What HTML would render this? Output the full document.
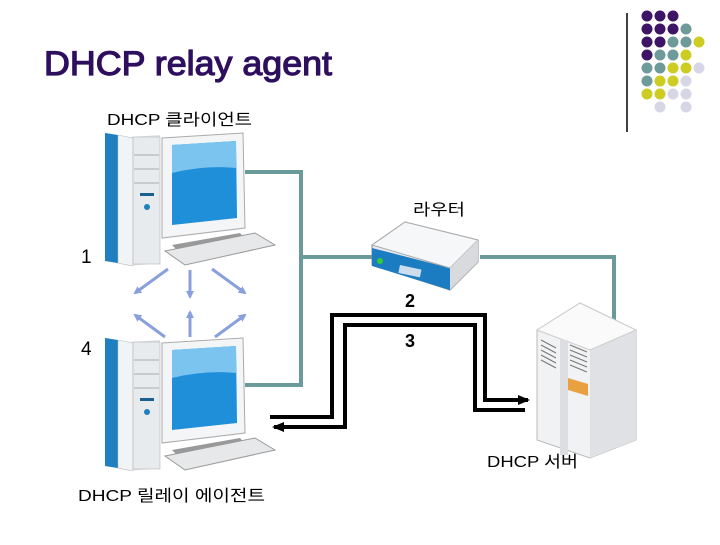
<!DOCTYPE html>
<html><head><meta charset="utf-8"><style>
body{margin:0;width:720px;height:540px;background:#fff;overflow:hidden;font-family:"Liberation Sans","Noto Sans CJK KR",sans-serif}
svg text{font-family:"Liberation Sans","Noto Sans CJK KR",sans-serif}
</style></head><body>
<svg width="720" height="540" viewBox="0 0 720 540" xmlns="http://www.w3.org/2000/svg">
<defs>
<marker id="ab" markerWidth="8" markerHeight="8" refX="6" refY="4" orient="auto" markerUnits="userSpaceOnUse"><path d="M0,0 L8,4 L0,8z" fill="#8aa0dc"/></marker>
<marker id="ak" markerWidth="12" markerHeight="10" refX="10" refY="5" orient="auto" markerUnits="userSpaceOnUse"><path d="M0,0 L12,5 L0,10z" fill="#000"/></marker>
<g id="pc">
<path d="M105,0 L130,4 L160,2 L160,130 L130,133 L105,128z" fill="#dfe3e8"/>
<path d="M105,0 L118,2 L118,130 L105,128z" fill="#1f7fc0"/>
<path d="M118,2 L133,5 L133,133 L118,130z" fill="#f2f3f5" stroke="#bbb" stroke-width=".5"/>
<rect x="133" y="4" width="27" height="127" fill="#e8ebee" stroke="#aaa" stroke-width=".5"/>
<line x1="134" y1="22" x2="159" y2="22" stroke="#aaa"/><line x1="134" y1="36" x2="159" y2="36" stroke="#aaa"/><line x1="134" y1="50" x2="159" y2="50" stroke="#aaa"/>
<rect x="140" y="60" width="14" height="3" fill="#1a5f90"/><circle cx="147" cy="74" r="3" fill="#1f7fc0"/>
<path d="M162,5 L243,0 L245,95 L162,105z" fill="#f4f5f6" stroke="#aaa"/>
<path d="M172,12 L236,8 L237,85 L172,92z" fill="#1e8fd8"/>
<path d="M172,12 L236,8 L236,35 Q205,32 172,40z" fill="#7cc4f0"/>
<path d="M172,112 L240,100 L250,112 L180,120z" fill="#999"/>
<path d="M165,118 L255,100 L275,112 L185,132z" fill="#e6e8ea" stroke="#999"/>
</g>
</defs>
<text x="44" y="75" font-size="34" fill="#2e0f5e" stroke="#2e0f5e" stroke-width="1.2" textLength="288" lengthAdjust="spacingAndGlyphs">DHCP relay agent</text>
<line x1="627" y1="13" x2="627" y2="132" stroke="#000" stroke-width="1.5"/>
<g>
<circle cx="647" cy="16" r="5.5" fill="#3d1466"/><circle cx="660" cy="16" r="5.5" fill="#3d1466"/><circle cx="673" cy="16" r="5.5" fill="#3d1466"/>
<circle cx="647" cy="29" r="5.5" fill="#3d1466"/><circle cx="660" cy="29" r="5.5" fill="#3d1466"/><circle cx="673" cy="29" r="5.5" fill="#3d1466"/><circle cx="686" cy="29" r="5.5" fill="#6e9a9a"/>
<circle cx="647" cy="42" r="5.5" fill="#3d1466"/><circle cx="660" cy="42" r="5.5" fill="#3d1466"/><circle cx="673" cy="42" r="5.5" fill="#6e9a9a"/><circle cx="686" cy="42" r="5.5" fill="#6e9a9a"/><circle cx="699" cy="42" r="5.5" fill="#cccc22"/>
<circle cx="647" cy="55" r="5.5" fill="#3d1466"/><circle cx="660" cy="55" r="5.5" fill="#6e9a9a"/><circle cx="673" cy="55" r="5.5" fill="#6e9a9a"/><circle cx="686" cy="55" r="5.5" fill="#cccc22"/>
<circle cx="647" cy="68" r="5.5" fill="#6e9a9a"/><circle cx="660" cy="68" r="5.5" fill="#6e9a9a"/><circle cx="673" cy="68" r="5.5" fill="#cccc22"/><circle cx="686" cy="68" r="5.5" fill="#cccc22"/><circle cx="699" cy="68" r="5.5" fill="#d6d6e6"/>
<circle cx="647" cy="81" r="5.5" fill="#6e9a9a"/><circle cx="660" cy="81" r="5.5" fill="#cccc22"/><circle cx="673" cy="81" r="5.5" fill="#cccc22"/><circle cx="686" cy="81" r="5.5" fill="#d6d6e6"/>
<circle cx="647" cy="94" r="5.5" fill="#cccc22"/><circle cx="660" cy="94" r="5.5" fill="#cccc22"/><circle cx="673" cy="94" r="5.5" fill="#d6d6e6"/><circle cx="686" cy="94" r="5.5" fill="#d6d6e6"/>
<circle cx="660" cy="107" r="5.5" fill="#d6d6e6"/><circle cx="686" cy="107" r="5.5" fill="#d6d6e6"/>
</g>
<text x="107" y="125" font-size="16" textLength="145" lengthAdjust="spacingAndGlyphs">DHCP 클라이언트</text>
<text x="413" y="215" font-size="16" textLength="52" lengthAdjust="spacingAndGlyphs">라우터</text>
<text x="487" y="467" font-size="16" textLength="91" lengthAdjust="spacingAndGlyphs">DHCP 서버</text>
<text x="78" y="501" font-size="16" textLength="187" lengthAdjust="spacingAndGlyphs">DHCP 릴레이 에이전트</text>
<text x="81" y="263" font-size="19">1</text>
<text x="81" y="355" font-size="19">4</text>
<text x="405" y="307" font-size="18" font-weight="bold">2</text>
<text x="405" y="347" font-size="18" font-weight="bold">3</text>
<path d="M245,172 H301 V385 H245 M301,257 H372 M480,257 H614 V320" fill="none" stroke="#6a9a9a" stroke-width="4"/>
<use href="#pc" y="133"/>
<use href="#pc" y="338"/>
<g stroke="#8aa0dc" stroke-width="3" marker-end="url(#ab)">
<line x1="168" y1="269" x2="135" y2="293"/><line x1="190" y1="270" x2="190" y2="297"/><line x1="212" y1="269" x2="245" y2="293"/>
<line x1="165" y1="337" x2="135" y2="315"/><line x1="190" y1="337" x2="190" y2="312"/><line x1="215" y1="337" x2="245" y2="315"/>
</g>
<path d="M372,245 L405,222 L478,240 L478,262 L450,290 L372,265z" fill="#e8eaec" stroke="#888"/>
<path d="M372,248 L450,268 L450,290 L372,266z" fill="#1c7cc2"/>
<path d="M372,245 L405,222 L478,240 L450,268z" fill="#f6f7f8" stroke="#aaa"/>
<path d="M450,268 L478,240 L478,262 L450,290z" fill="#d8dadd"/>
<circle cx="380" cy="261" r="3" fill="#3c3"/>
<rect x="400" y="265" width="22" height="8" fill="#cde" transform="rotate(12 400 265)"/>
<path d="M270,417 H332 V315 H485 V400 H528" fill="none" stroke="#000" stroke-width="4" marker-end="url(#ak)"/>
<path d="M525,410 H475 V325 H345 V427 H274" fill="none" stroke="#000" stroke-width="4" marker-end="url(#ak)"/>
<path d="M537,330 L580,303 L636,330 L636,440 L590,458 L537,440z" fill="#f1f2f4" stroke="#bbb"/>
<path d="M590,350 L636,330 L636,440 L590,458z" fill="#dfe1e4"/>
<path d="M537,330 L580,303 L636,330 L590,350z" fill="#fafafa" stroke="#ccc"/>
<rect x="560" y="340" width="8" height="115" fill="#dcdee1"/>
<g stroke="#777" stroke-width="1"><line x1="541" y1="340" x2="556" y2="348"/><line x1="541" y1="345" x2="556" y2="353"/><line x1="541" y1="350" x2="556" y2="358"/><line x1="541" y1="355" x2="556" y2="363"/><line x1="541" y1="360" x2="556" y2="368"/>
<line x1="570" y1="345" x2="587" y2="352"/><line x1="570" y1="350" x2="587" y2="357"/><line x1="570" y1="355" x2="587" y2="362"/><line x1="570" y1="360" x2="587" y2="367"/><line x1="570" y1="365" x2="587" y2="372"/></g>
<path d="M568,378 L588,384 L588,396 L568,390z" fill="#e8a040"/>
</svg>
</body></html>
